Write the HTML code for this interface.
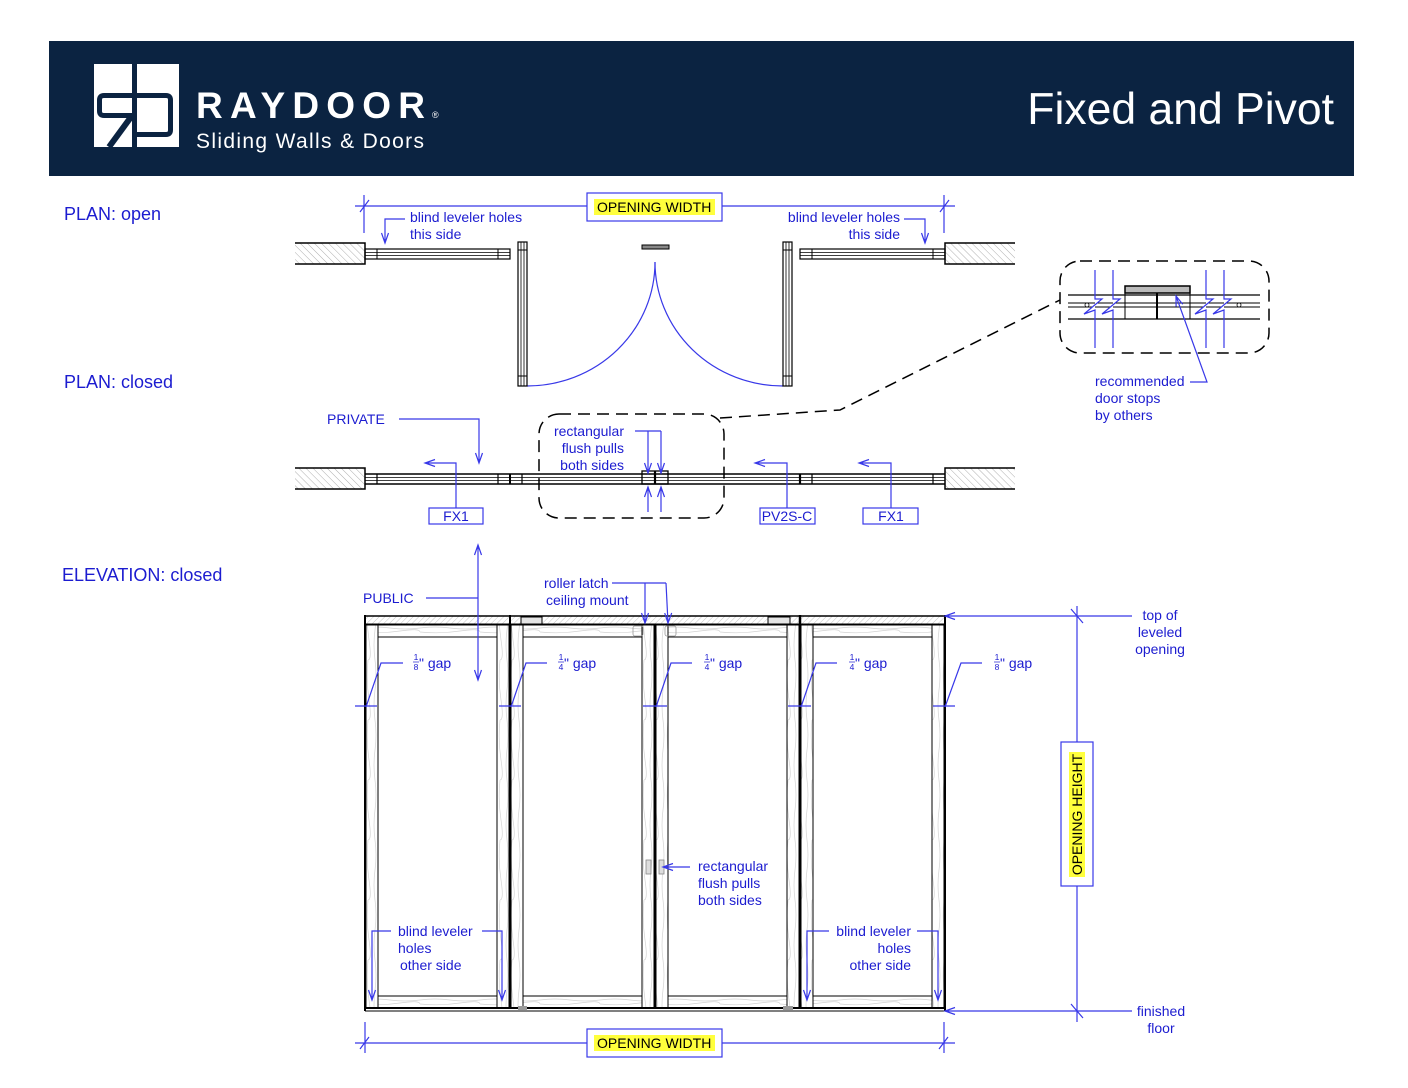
<!DOCTYPE html>
<html><head><meta charset="utf-8"><style>
html,body{margin:0;padding:0;background:#fff;}
svg{display:block;}
text{font-family:"Liberation Sans",Arial,sans-serif;}
</style></head><body>
<svg width="1408" height="1088" viewBox="0 0 1408 1088" xmlns="http://www.w3.org/2000/svg">
<defs>
<pattern id="hb" width="5" height="5" patternUnits="userSpaceOnUse" patternTransform="rotate(-45)"><line x1="0" y1="0" x2="0" y2="5" stroke="#9a9a9a" stroke-width="0.8"/></pattern>
<pattern id="hf" width="4" height="4" patternUnits="userSpaceOnUse" patternTransform="rotate(45)"><line x1="0" y1="0" x2="0" y2="4" stroke="#aaa" stroke-width="0.7"/></pattern>
<pattern id="wv" width="12" height="60" patternUnits="userSpaceOnUse"><path d="M3 0 Q5 15 3 30 T3 60 M8 0 Q6 20 9 40 T8 60" fill="none" stroke="#d2d2d2" stroke-width="0.7"/></pattern>
<pattern id="wh" width="60" height="12" patternUnits="userSpaceOnUse"><path d="M0 4 Q15 2 30 4 T60 4 M0 8 Q20 10 40 7 T60 8" fill="none" stroke="#d2d2d2" stroke-width="0.7"/></pattern>
</defs>
<rect width="1408" height="1088" fill="#fff"/>

<!-- HEADER -->
<rect x="49" y="41" width="1305" height="135" fill="#0b2341"/>
<rect x="94" y="64" width="85" height="83" fill="#fff"/>
<rect x="132" y="64" width="5" height="83" fill="#0b2341"/>
<path d="M134 95.5 H104 Q99.5 95.5 99.5 100 V111 Q99.5 115.5 104 115.5 H134" fill="none" stroke="#0b2341" stroke-width="5"/>
<line x1="131" y1="117" x2="109" y2="147" stroke="#0b2341" stroke-width="6"/>
<path d="M134 95.5 H166 Q170.5 95.5 170.5 100 V130 Q170.5 134.5 166 134.5 H134" fill="none" stroke="#0b2341" stroke-width="5"/>
<text x="196" y="118" font-size="37" font-weight="bold" fill="#fff" textLength="229" lengthAdjust="spacing">RAYDOOR</text>
<text x="432" y="118" font-size="9" fill="#fff">®</text>
<text x="196" y="148" font-size="21" fill="#fff" textLength="228" lengthAdjust="spacing">Sliding Walls &amp; Doors</text>
<text x="1334" y="124" font-size="44.5" fill="#fff" text-anchor="end">Fixed and Pivot</text>

<!-- Section labels -->
<g fill="#1c1cd0" font-size="18">
<text x="64" y="220">PLAN: open</text>
<text x="64" y="388">PLAN: closed</text>
<text x="62" y="581">ELEVATION: closed</text>
</g>

<!-- PLAN OPEN -->
<g stroke="#3838e8" stroke-width="1.2" fill="none">
<line x1="355" y1="206" x2="587" y2="206"/>
<line x1="722" y1="206" x2="955" y2="206"/>
<line x1="364" y1="195" x2="364" y2="233"/>
<line x1="944" y1="195" x2="944" y2="233"/>
<line x1="360" y1="212" x2="369" y2="200"/>
<line x1="940" y1="212" x2="949" y2="200"/>
<rect x="587" y="193" width="135" height="28"/>
<path d="M405 219 H385 V243 M381.5 233 L385 243 L388.5 233"/>
<path d="M904 219 H925 V243 M921.5 233 L925 243 L928.5 233"/>
<path d="M527 386 A128 124 0 0 0 655 262"/>
<path d="M655 262 A128 124 0 0 0 783 386"/>
</g>
<rect x="594" y="199" width="121" height="16" fill="#ffff3c"/>
<text x="597" y="212" font-size="14" fill="#000">OPENING WIDTH</text>
<g fill="#1c1cd0" font-size="14">
<text x="410" y="222">blind leveler holes</text>
<text x="410" y="239">this side</text>
<text x="900" y="222" text-anchor="end">blind leveler holes</text>
<text x="900" y="239" text-anchor="end">this side</text>
</g>
<!-- walls open -->
<rect x="295" y="243" width="70" height="21" fill="url(#hb)"/>
<rect x="945" y="243" width="70" height="21" fill="url(#hb)"/>
<g stroke="#000" fill="none">
<path d="M295 243 H365 V264 H295" stroke-width="1.5"/>
<path d="M1015 243 H945 V264 H1015" stroke-width="1.5"/>
<rect x="365" y="249" width="145" height="10" stroke-width="1.2"/>
<line x1="365" y1="252.5" x2="510" y2="252.5" stroke-width="0.8"/>
<line x1="365" y1="255.5" x2="510" y2="255.5" stroke-width="0.8"/>
<line x1="377" y1="249" x2="377" y2="259"/>
<line x1="498" y1="249" x2="498" y2="259"/>
<rect x="800" y="249" width="145" height="10" stroke-width="1.2"/>
<line x1="800" y1="252.5" x2="945" y2="252.5" stroke-width="0.8"/>
<line x1="800" y1="255.5" x2="945" y2="255.5" stroke-width="0.8"/>
<line x1="812" y1="249" x2="812" y2="259"/>
<line x1="933" y1="249" x2="933" y2="259"/>
<rect x="518" y="242" width="9" height="144" stroke-width="1.2"/>
<line x1="521" y1="242" x2="521" y2="386" stroke-width="0.8"/>
<line x1="524" y1="242" x2="524" y2="386" stroke-width="0.8"/>
<line x1="518" y1="250" x2="527" y2="250"/>
<line x1="518" y1="376" x2="527" y2="376"/>
<rect x="783" y="242" width="9" height="144" stroke-width="1.2"/>
<line x1="786" y1="242" x2="786" y2="386" stroke-width="0.8"/>
<line x1="789" y1="242" x2="789" y2="386" stroke-width="0.8"/>
<line x1="783" y1="250" x2="792" y2="250"/>
<line x1="783" y1="376" x2="792" y2="376"/>
</g>
<rect x="642" y="245" width="27" height="4" fill="#888" stroke="#000" stroke-width="1"/>

<!-- DETAIL -->
<g stroke="#000" fill="none">
<rect x="1060" y="261" width="209" height="92" rx="20" stroke-width="1.5" stroke-dasharray="12 7"/>
<path d="M720 418 L840 410 L1060 300" stroke-width="1.5" stroke-dasharray="12 7"/>
<line x1="1068" y1="295" x2="1260" y2="295" stroke-width="1.3"/>
<line x1="1068" y1="303" x2="1260" y2="303" stroke-width="1"/>
<line x1="1068" y1="307" x2="1260" y2="307" stroke-width="1"/>
<line x1="1068" y1="319" x2="1260" y2="319" stroke-width="1.3"/>
<line x1="1125" y1="293" x2="1125" y2="319"/>
<line x1="1157" y1="293" x2="1157" y2="319" stroke-width="2"/>
<line x1="1190" y1="293" x2="1190" y2="319"/>
<circle cx="1087" cy="305" r="2" stroke-width="0.8"/>
<circle cx="1239" cy="305" r="2" stroke-width="0.8"/>
</g>
<rect x="1125" y="286" width="65" height="7" fill="#bbb" stroke="#000" stroke-width="1.5"/>
<g stroke="#3838e8" stroke-width="1.2" fill="#fff">
<path d="M1095 270 V299 L1102 299 L1084 314 L1095 310 V348"/>
<path d="M1113 270 V299 L1120 299 L1102 314 L1113 310 V348"/>
<path d="M1206 270 V299 L1213 299 L1195 314 L1206 310 V348"/>
<path d="M1224 270 V299 L1231 299 L1213 314 L1224 310 V348"/>
</g>
<g stroke="#3838e8" stroke-width="1.2" fill="none">
<path d="M1190 382 H1207 L1176 296 M1182.7 304.2 L1176 296 L1176.1 306.6"/>
</g>
<g fill="#1c1cd0" font-size="14">
<text x="1095" y="386">recommended</text>
<text x="1095" y="403">door stops</text>
<text x="1095" y="420">by others</text>
</g>

<!-- PLAN CLOSED -->
<rect x="295" y="468" width="70" height="21" fill="url(#hb)"/>
<rect x="945" y="468" width="70" height="21" fill="url(#hb)"/>
<g stroke="#000" fill="none">
<path d="M295 468 H365 V489 H295" stroke-width="1.5"/>
<path d="M1015 468 H945 V489 H1015" stroke-width="1.5"/>
<line x1="365" y1="474" x2="945" y2="474" stroke-width="1.5"/>
<line x1="365" y1="484" x2="945" y2="484" stroke-width="1.5"/>
<line x1="365" y1="477.5" x2="945" y2="477.5" stroke-width="0.8"/>
<line x1="365" y1="480.5" x2="945" y2="480.5" stroke-width="0.8"/>
<g stroke-width="1.2">
<line x1="377" y1="474" x2="377" y2="484"/>
<line x1="498" y1="474" x2="498" y2="484"/>
<line x1="510" y1="474" x2="510" y2="484" stroke-width="2"/>
<line x1="522" y1="474" x2="522" y2="484"/>
<line x1="655" y1="471" x2="655" y2="484" stroke-width="2.2"/>
<line x1="800" y1="474" x2="800" y2="484" stroke-width="2.2"/>
<line x1="812" y1="474" x2="812" y2="484"/>
<line x1="933" y1="474" x2="933" y2="484"/>
</g>
<rect x="642" y="471" width="26" height="13" stroke-width="1.3"/>
<rect x="539" y="414" width="185" height="104" rx="20" stroke-width="1.5" stroke-dasharray="12 7"/>
</g>
<g stroke="#3838e8" stroke-width="1.2" fill="none">
<path d="M399 419 H479 V463 M475.5 453 L479 463 L482.5 453"/>
<path d="M456 508 V463 H425 M435 459.5 L425 463 L435 466.5"/>
<path d="M787 508 V463 H755 M765 459.5 L755 463 L765 466.5"/>
<path d="M891 508 V463 H859 M869 459.5 L859 463 L869 466.5"/>
<rect x="429" y="508" width="54" height="16"/>
<rect x="760" y="508" width="55" height="16"/>
<rect x="863" y="508" width="55" height="16"/>
<path d="M635 431 H661 M648 431 V473 M661 431 V473 M644.5 463 L648 473 L651.5 463 M657.5 463 L661 473 L664.5 463"/>
<path d="M648 512 V487 M661 512 V487 M644.5 497 L648 487 L651.5 497 M657.5 497 L661 487 L664.5 497"/>
</g>
<g fill="#1c1cd0" font-size="14">
<text x="327" y="424">PRIVATE</text>
<text x="456" y="521" text-anchor="middle">FX1</text>
<text x="787" y="521" text-anchor="middle">PV2S-C</text>
<text x="891" y="521" text-anchor="middle">FX1</text>
<text x="624" y="436" text-anchor="end">rectangular</text>
<text x="624" y="453" text-anchor="end">flush pulls</text>
<text x="624" y="470" text-anchor="end">both sides</text>
</g>

<!-- ELEVATION -->
<rect x="365" y="616" width="580" height="8" fill="url(#hf)" stroke="#333" stroke-width="1"/>
<g stroke="#000" stroke-width="1">
<rect x="366" y="625" width="12" height="383" fill="url(#wv)"/>
<rect x="497" y="625" width="12" height="383" fill="url(#wv)"/>
<rect x="378" y="625" width="119" height="12" fill="url(#wh)"/>
<rect x="378" y="996" width="119" height="12" fill="url(#wh)"/>
<rect x="511" y="625" width="12" height="383" fill="url(#wv)"/>
<rect x="642" y="625" width="12" height="383" fill="url(#wv)"/>
<rect x="523" y="625" width="119" height="12" fill="url(#wh)"/>
<rect x="523" y="996" width="119" height="12" fill="url(#wh)"/>
<rect x="656" y="625" width="12" height="383" fill="url(#wv)"/>
<rect x="787" y="625" width="12" height="383" fill="url(#wv)"/>
<rect x="668" y="625" width="119" height="12" fill="url(#wh)"/>
<rect x="668" y="996" width="119" height="12" fill="url(#wh)"/>
<rect x="801" y="625" width="12" height="383" fill="url(#wv)"/>
<rect x="932" y="625" width="12" height="383" fill="url(#wv)"/>
<rect x="813" y="625" width="119" height="12" fill="url(#wh)"/>
<rect x="813" y="996" width="119" height="12" fill="url(#wh)"/>
</g>
<g stroke="#000" fill="none">
<line x1="365" y1="616" x2="945" y2="616" stroke-width="1.5"/>
<line x1="365" y1="624.5" x2="945" y2="624.5" stroke-width="2"/>
<line x1="365" y1="615" x2="365" y2="1011" stroke-width="2"/>
<line x1="945" y1="615" x2="945" y2="1011" stroke-width="2"/>
<line x1="510" y1="615" x2="510" y2="1008" stroke-width="2"/>
<line x1="800" y1="615" x2="800" y2="1008" stroke-width="2.5"/>
<line x1="655" y1="625" x2="655" y2="1008" stroke-width="1.5"/>
<line x1="365" y1="1008" x2="945" y2="1008" stroke-width="2"/>
<line x1="365" y1="1011" x2="945" y2="1011" stroke-width="1"/>
</g>
<rect x="521" y="617" width="21" height="7" fill="#e4e4e4" stroke="#000" stroke-width="1"/>
<rect x="768" y="617" width="22" height="7" fill="#e4e4e4" stroke="#000" stroke-width="1"/>
<rect x="518" y="1006" width="9" height="4" fill="#999"/>
<rect x="783" y="1006" width="10" height="4" fill="#999"/>
<rect x="633" y="626" width="10" height="10" rx="2" fill="none" stroke="#999" stroke-width="0.8"/>
<rect x="665" y="626" width="11" height="10" rx="2" fill="none" stroke="#999" stroke-width="0.8"/>
<rect x="646" y="860" width="5" height="14" fill="#ddd" stroke="#888" stroke-width="0.8"/>
<rect x="659" y="860" width="5" height="14" fill="#ddd" stroke="#888" stroke-width="0.8"/>

<g stroke="#3838e8" stroke-width="1.2" fill="none">
<path d="M426 598 H478 M478 545 V680 M474.5 555 L478 545 L481.5 555 M474.5 670 L478 680 L481.5 670"/>
<path d="M612 583 H666 M645 583 V623 M641.5 613 L645 623 L648.5 613 M666 583 L668 623 M664.7 613.1 L668 623 L671.7 612.9"/>
<path d="M403 663 H381 L366 707 M355 706 H377"/>
<path d="M547 663 H526 L511 707 M499 706 H521"/>
<path d="M692 663 H671 L656 707 M643 706 H667"/>
<path d="M837 663 H816 L801 707 M788 706 H811"/>
<path d="M982 663 H961 L945 707 M933 706 H955"/>
<path d="M391 931 H372 V1000 M368.5 990 L372 1000 L375.5 990"/>
<path d="M482 931 H502 V1000 M498.5 990 L502 1000 L505.5 990"/>
<path d="M829 931 H807 V1000 M803.5 990 L807 1000 L810.5 990"/>
<path d="M917 931 H938 V1000 M934.5 990 L938 1000 L941.5 990"/>
<path d="M690 867 H663 M673 863.5 L663 867 L673 870.5"/>
<path d="M945 616 H1132 M955 612.5 L945 616 L955 619.5"/>
<path d="M945 1011 H1132 M955 1007.5 L945 1011 L955 1014.5"/>
<path d="M1077 606 V742 M1077 886 V1022"/>
<path d="M1071 609 L1083 623 M1071 1004 L1083 1018"/>
<rect x="1061" y="742" width="32" height="144"/>
<path d="M355 1043 H587 M722 1043 H955 M365 1022 V1053 M944 1022 V1053 M360 1049 L369 1037 M939 1049 L948 1037"/>
<rect x="587" y="1029" width="135" height="28"/>
</g>
<rect x="1069" y="752" width="16" height="125" fill="#ffff3c"/>
<text x="0" y="0" font-size="14" fill="#000" text-anchor="middle" transform="translate(1082 814.5) rotate(-90)">OPENING HEIGHT</text>
<rect x="594" y="1035" width="121" height="16" fill="#ffff3c"/>
<text x="597" y="1048" font-size="14" fill="#000">OPENING WIDTH</text>

<g fill="#1c1cd0" font-size="14">
<text x="363" y="603">PUBLIC</text>
<text x="544" y="588">roller latch</text>
<text x="546" y="605">ceiling mount</text>
<text x="698" y="871">rectangular</text>
<text x="698" y="888">flush pulls</text>
<text x="698" y="905">both sides</text>
<text x="398" y="936">blind leveler</text>
<text x="398" y="953">holes</text>
<text x="400" y="970">other side</text>
<text x="911" y="936" text-anchor="end">blind leveler</text>
<text x="911" y="953" text-anchor="end">holes</text>
<text x="911" y="970" text-anchor="end">other side</text>
<text x="1160" y="620" text-anchor="middle">top of</text>
<text x="1160" y="637" text-anchor="middle">leveled</text>
<text x="1160" y="654" text-anchor="middle">opening</text>
<text x="1161" y="1016" text-anchor="middle">finished</text>
<text x="1161" y="1033" text-anchor="middle">floor</text>
</g>
<g fill="#1c1cd0">
<g font-size="8.5" text-anchor="middle">
<text x="416" y="660">1</text><text x="416" y="670">8</text>
<text x="561" y="660">1</text><text x="561" y="670">4</text>
<text x="707" y="660">1</text><text x="707" y="670">4</text>
<text x="852" y="660">1</text><text x="852" y="670">4</text>
<text x="997" y="660">1</text><text x="997" y="670">8</text>
</g>
<g font-size="14">
<text x="419" y="668">" gap</text>
<text x="564" y="668">" gap</text>
<text x="710" y="668">" gap</text>
<text x="855" y="668">" gap</text>
<text x="1000" y="668">" gap</text>
</g>
</g>
<g stroke="#1c1cd0" stroke-width="0.7">
<line x1="413" y1="662" x2="419" y2="662"/>
<line x1="558" y1="662" x2="564" y2="662"/>
<line x1="704" y1="662" x2="710" y2="662"/>
<line x1="849" y1="662" x2="855" y2="662"/>
<line x1="994" y1="662" x2="1000" y2="662"/>
</g>
</svg>
</body></html>
